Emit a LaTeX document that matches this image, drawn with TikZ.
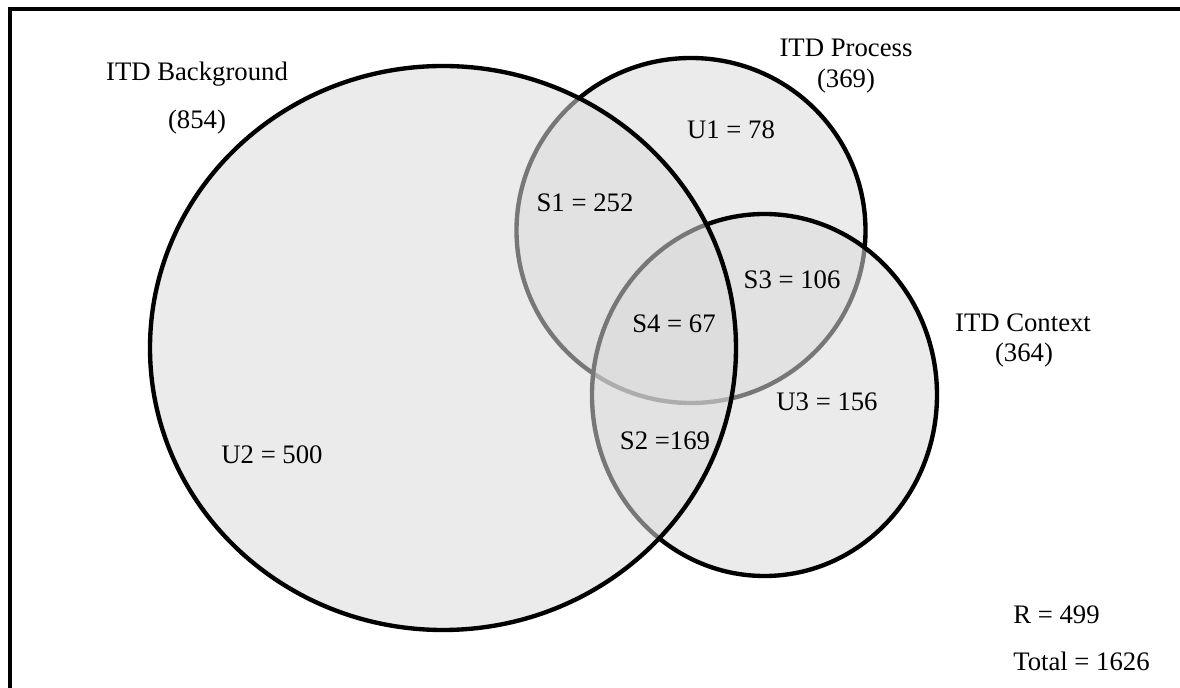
\documentclass[tikz,border=0pt]{standalone}
\usepackage{fontspec}
\setmainfont{Liberation Serif}
\usepackage{tikz}

\definecolor{vennfill}{RGB}{218,218,218}

\begin{document}
\begin{tikzpicture}[x=0.025cm, y=-0.025cm,
    every node/.style={inner sep=0pt, font=\fontsize{19}{22}\selectfont},
    venn/.style={draw=black, line width=3.1pt, fill=vennfill, fill opacity=0.55, draw opacity=1}]
  \useasboundingbox (0,0) rectangle (1180,688);
  \clip (0,0) rectangle (1180,688);

  % Frame
  \draw[line width=3.4pt] (10,9) rectangle (1200,720);

  % Sets
  \coordinate (proc) at (691,230.5);
  \coordinate (ctx) at (764.5,395);
  \coordinate (bg) at (443,348);
  \draw[venn] (proc) ellipse [x radius=174.5, y radius=172.5];
  \draw[venn] (ctx) ellipse [x radius=172.5, y radius=181];
  \draw[venn] (bg) ellipse [x radius=293, y radius=282];

  % Set names
  \node (bgname) at (197,74) {ITD Background};
  \node (bgsize) at (197,122) {(854)};
  \node (procname) at (846,48) {ITD Process};
  \node (procsize) at (846,81) {(369)};
  \node (ctxname) at (1023,323) {ITD Context};
  \node (ctxsize) at (1024,355) {(364)};

  % Region counts
  \node (u1) at (731,130) {U1 = 78};
  \node (u2) at (272,455) {U2 = 500};
  \node (u3) at (827,402) {U3 = 156};
  \node (s1) at (585,203) {S1 = 252};
  \node (s2) at (665,441) {S2 =169};
  \node (s3) at (792,280) {S3 = 106};
  \node (s4) at (674,324) {S4 = 67};

  % Rest and total
  \node[anchor=west] (rest) at (1013,615) {R = 499};
  \node[anchor=west] (total) at (1013,661) {Total = 1626};
\end{tikzpicture}
\end{document}
